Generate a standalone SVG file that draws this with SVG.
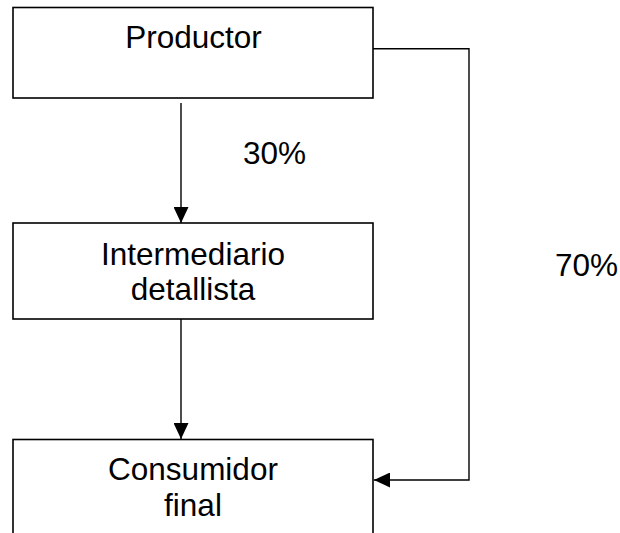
<svg xmlns="http://www.w3.org/2000/svg" width="620" height="533" viewBox="0 0 620 533">
<style>
.box{fill:#fff;stroke:#000;stroke-width:1.6}
.lbl{font-family:"Liberation Sans",Arial,sans-serif;font-size:31.5px;fill:#000}
.mid{text-anchor:middle}
.conn{fill:none;stroke:#000;stroke-width:1.4}
</style>
<defs>
<marker id="arr" viewBox="0 0 16 15" refX="16" refY="7.5" markerWidth="16" markerHeight="15" markerUnits="userSpaceOnUse" orient="auto">
<path d="M0,0 L16,7.5 L0,15 z" fill="#000"/>
</marker>
</defs>
<rect width="620" height="533" fill="#fff"/>
<g id="productor">
<rect class="box" x="13" y="7.5" width="360" height="90.5"/>
<text class="lbl mid" x="193.5" y="48">Productor</text>
</g>
<g id="intermediario">
<rect class="box" x="13" y="223" width="360" height="96"/>
<text class="lbl mid" x="193" y="265">Intermediario</text>
<text class="lbl mid" x="193" y="300">detallista</text>
</g>
<g id="consumidor">
<rect class="box" x="13" y="439.5" width="360" height="120"/>
<text class="lbl mid" x="193" y="480">Consumidor</text>
<text class="lbl mid" x="193" y="515.5">final</text>
</g>
<g id="connectors">
<path class="conn" d="M181,103 L181,223" marker-end="url(#arr)"/>
<path class="conn" d="M181,319 L181,439" marker-end="url(#arr)"/>
<path class="conn" d="M373,48.7 L469,48.7 L469,480 L374,480" marker-end="url(#arr)"/>
<text class="lbl" x="243" y="164">30%</text>
<text class="lbl" x="555" y="276">70%</text>
</g>
</svg>
